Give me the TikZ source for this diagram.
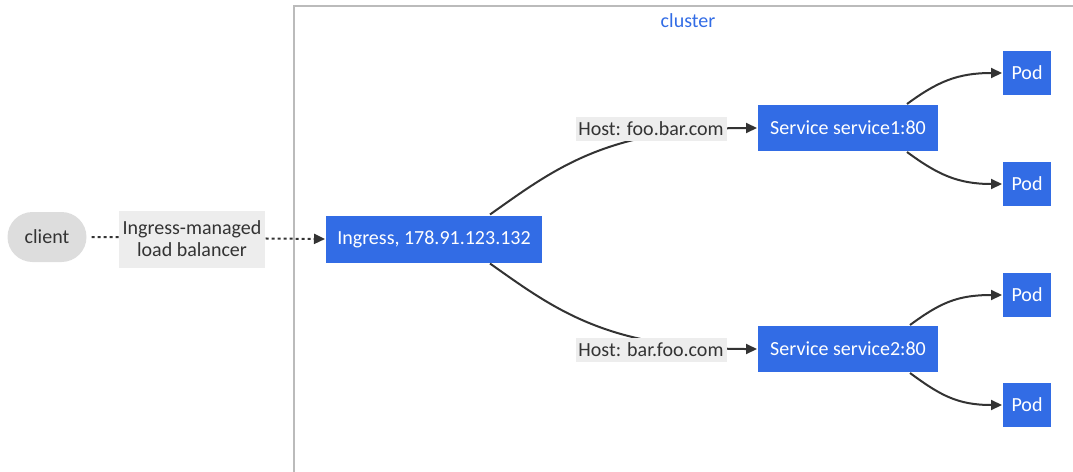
\documentclass[tikz,border=0pt]{standalone}
\usepackage{fontspec}
\setmainfont{Carlito}
\usetikzlibrary{arrows.meta}
\definecolor{k8sblue}{HTML}{326CE5}
\definecolor{plaingray}{HTML}{DDDDDD}
\definecolor{clustergray}{HTML}{BBBBBB}
\definecolor{labelgray}{HTML}{EDEDED}
\definecolor{edgegray}{HTML}{333333}

\begin{document}
\begin{tikzpicture}[x=1pt,y=-1pt,
	txt/.style={font=\fontsize{20}{22}\selectfont},
	k8s/.style={txt,fill=k8sblue,draw=white,line width=1pt,text=white,inner sep=0pt},
	plain/.style={txt,fill=plaingray,text=edgegray,inner sep=0pt,rounded corners=25pt},
	edgelabel/.style={txt,fill=labelgray,text=edgegray,inner sep=0pt,align=center},
	edge/.style={draw=edgegray,line width=2pt,-{Triangle[length=11pt,width=10pt]}},
	dottededge/.style={edge,dash pattern=on 3pt off 3pt}]
	\useasboundingbox (0,0) rectangle (1073,471);
	\clip (0,0) rectangle (1073,471);
	% cluster frame
	\draw[clustergray,line width=2pt] (294,480) -- (294,6) -- (1090,6);
	\node[txt,text=k8sblue] (clusterlbl) at (688,21) {cluster};
	% nodes
	\node[plain,minimum width=79pt,minimum height=50pt] (client) at (47,237) {client};
	\node[k8s,minimum width=217pt,minimum height=48pt] (ingress) at (434,239) {Ingress, 178.91.123.132};
	\node[k8s,minimum width=181pt,minimum height=47pt] (service1) at (848,128) {Service service1:80};
	\node[k8s,minimum width=181pt,minimum height=47pt] (service2) at (848,349) {Service service2:80};
	\node[k8s,minimum width=49pt,minimum height=45pt] (pod1) at (1027,73) {Pod};
	\node[k8s,minimum width=49pt,minimum height=45pt] (pod2) at (1027,184) {Pod};
	\node[k8s,minimum width=49pt,minimum height=45pt] (pod3) at (1027,295) {Pod};
	\node[k8s,minimum width=49pt,minimum height=45pt] (pod4) at (1027,405) {Pod};
	% connectors
	\draw[dottededge] ([xshift=5pt]client.east) -- (ingress.west);
	\draw[edge] ([xshift=56pt]ingress.north) .. controls +(65,-46) and +(-150,0) .. (service1.west);
	\draw[edge] ([xshift=56pt]ingress.south) .. controls +(65,46) and +(-150,0) .. (service2.west);
	\draw[edge] ([xshift=59pt]service1.north) .. controls +(30,-22) and +(-45,0) .. (pod1.west);
	\draw[edge] ([xshift=59pt]service1.south) .. controls +(30,22) and +(-45,0) .. (pod2.west);
	\draw[edge] ([xshift=62pt]service2.north) .. controls +(30,-22) and +(-45,0) .. (pod3.west);
	\draw[edge] ([xshift=62pt]service2.south) .. controls +(30,22) and +(-45,0) .. (pod4.west);
	% edge labels
	\node[edgelabel,minimum width=146pt,minimum height=57pt] (lblb) at (192,239) {Ingress-managed\\load balancer};
	\node[edgelabel,minimum width=151pt,minimum height=24pt] (host1) at (651,129) {Host: foo.bar.com};
	\node[edgelabel,minimum width=151pt,minimum height=24pt] (host2) at (651,350) {Host: bar.foo.com};
\end{tikzpicture}
\end{document}
